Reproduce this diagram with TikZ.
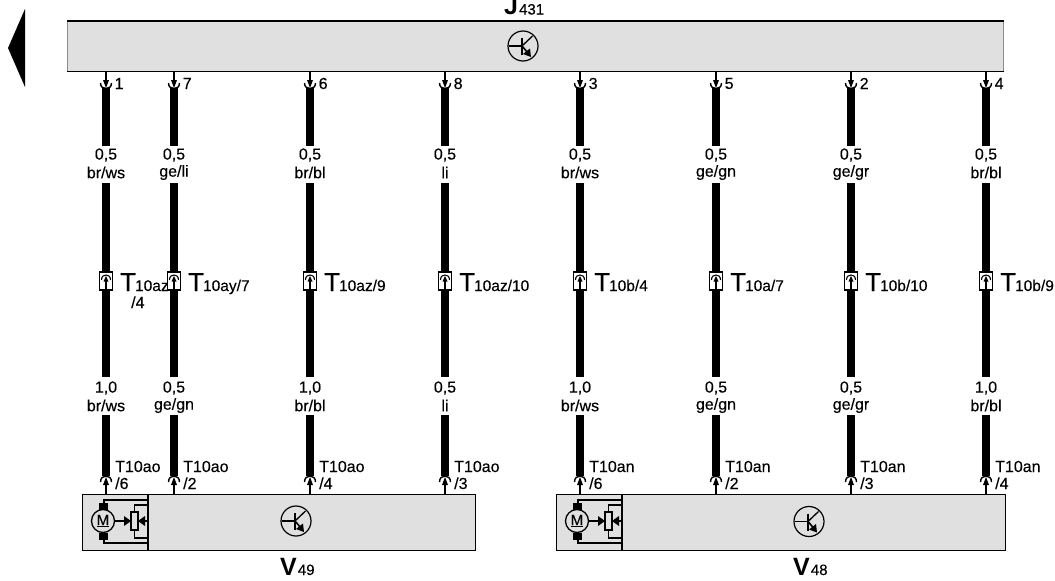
\documentclass[tikz,border=0pt]{standalone}
\usepackage{fontspec}
\setmainfont[FakeBold=0.25]{Liberation Sans}
\newfontfamily\bigfont{Liberation Sans Bold}
\begin{document}
\begin{tikzpicture}[x=1pt,y=-1pt,
  boxfill/.style={fill=black!12},
  rule/.style={line width=1.3pt,black},
  wire/.style={line width=8pt,black},
  thinline/.style={line width=1.2pt,black},
  lab/.style={inner sep=0pt,align=center,font=\fontsize{16}{17}\selectfont},
  pin/.style={inner sep=0pt,anchor=west,font=\fontsize{16}{16}\selectfont},
  conn/.style={inner sep=0pt,anchor=base west,font=\fontsize{16}{16}\selectfont},
  big/.style={inner sep=0pt,anchor=base west,font=\fontsize{26}{26}\selectfont},
  ttl/.style={inner sep=0pt,anchor=base west,font=\fontsize{25}{25}\selectfont},
]
\useasboundingbox (0,0) rectangle (1055,581);
\fill[black] (8,48) -- (25,9) -- (25,87) -- cycle;
% boxes
\node[boxfill,draw=black!45,line width=0.5pt,minimum width=936pt,minimum height=50pt,inner sep=0pt,anchor=north west] (J) at (67,21) {};
\draw[rule] (J.north west) -- (J.north east);
\draw[rule] (J.south west) -- (J.south east);
\node[boxfill,draw=black,line width=1.2pt,minimum width=393pt,minimum height=56pt,inner sep=0pt,anchor=north west] (VL) at (82,494) {};
\node[boxfill,draw=black,line width=1.2pt,minimum width=449pt,minimum height=56pt,inner sep=0pt,anchor=north west] (VR) at (556,494) {};
\draw[thinline] (148,494) -- (148,550);
\draw[thinline] (622,494) -- (622,550);
\node[ttl] (Jt) at (504,14.5) {{\bigfont J}{\fontsize{15}{15}\selectfont\kern1pt 431}};
\node[ttl] (Vlt) at (280,575) {{\bigfont V}{\fontsize{15}{15}\selectfont\kern1pt 49}};
\node[ttl] (Vrt) at (793,575) {{\bigfont V}{\fontsize{15}{15}\selectfont\kern1pt 48}};
% transistor symbols
\foreach \cx/\cy/\n in {523/46/a,296/521/b,809/521.5/c}{
  \begin{scope}[shift={(\cx,\cy)}]
    \node[circle,draw=black,line width=1.2pt,minimum size=30pt,inner sep=0pt] (sym\n) at (0,0) {};
    \draw[line width=1.3pt] (-14,0) -- (-1,0);
    \draw[line width=1.6pt] (-1,-8) -- (-1,9);
    \draw[line width=1.3pt] (-1,0) -- (9.5,-10);
    \draw[line width=1.6pt] (-1,0) -- (5,7);
    \fill (8,11) -- (7,2.5) -- (0,8) -- cycle;
  \end{scope}
}
% wires
\newcommand{\wirecol}[9]{%
  % #1 id, #2 x, #3 pin, #4 top size, #5 top colour, #6 bottom size, #7 bottom colour, #8 bottom connector, #9 bottom pin
  \coordinate (t#1) at (#2,71);
  \coordinate (b#1) at (#2,494);
  \node[lab] (ta#1) at (#2,155) {#4};
  \node[lab] (tb#1) at (#2,172.5) {#5};
  \node[lab] (ba#1) at (#2,388) {#6};
  \node[lab] (bb#1) at (#2,405.5) {#7};
  \coordinate (w1#1) at (#2,88);
  \coordinate (w2#1) at (#2,146);
  \coordinate (w3#1) at (#2,183);
  \coordinate (w4#1) at (#2,377);
  \coordinate (w5#1) at (#2,415);
  \coordinate (w6#1) at (#2,476);
  \draw[wire] (w1#1) -- (w2#1);
  \draw[wire] (w3#1) -- (w4#1);
  \draw[wire] (w5#1) -- (w6#1);
  % top pin
  \draw[line width=1.4pt] (t#1) -- ++(0,11);
  \fill (#2-3,80) -- (#2+3,80) -- (#2,88) -- cycle;
  \draw[line width=1.4pt] (#2-5.5,83) .. controls (#2-5.5,87) and (#2-3,88.5) .. (#2,88.5) .. controls (#2+3,88.5) and (#2+5.5,87) .. (#2+5.5,83);
  \node[pin] (p#1) at (#2+8.5,83.5) {#3};
  % bottom pin
  \draw[line width=1.4pt] (b#1) -- ++(0,-11);
  \fill (#2-3,485) -- (#2+3,485) -- (#2,477) -- cycle;
  \draw[line width=1.4pt] (#2-5.5,482) .. controls (#2-5.5,478) and (#2-3,476) .. (#2,476) .. controls (#2+3,476) and (#2+5.5,478) .. (#2+5.5,482);
  \node[conn] (q#1) at (#2+9,472) {#8};
  \node[conn] (r#1) at (#2+9,489) {/#9};
  % middle connector
  \node[draw=black,fill=white,line width=1.3pt,minimum width=13pt,minimum height=18pt,inner sep=0pt] (c#1) at (#2,281) {};
  \draw[line width=1.2pt] (#2,289) -- (#2,278);
  \fill (#2-2.5,281.5) -- (#2+2.5,281.5) -- (#2,276) -- cycle;
  \draw[line width=1.1pt] (#2-4.5,280) .. controls (#2-4.5,276) and (#2-2,275) .. (#2,275) .. controls (#2+2,275) and (#2+4.5,276) .. (#2+4.5,280);
}
\wirecol{1}{106}{1}{0,5}{br/ws}{1,0}{br/ws}{T10ao}{6}
\wirecol{2}{174}{7}{0,5}{ge/li}{0,5}{ge/gn}{T10ao}{2}
\wirecol{3}{310}{6}{0,5}{br/bl}{1,0}{br/bl}{T10ao}{4}
\wirecol{4}{445}{8}{0,5}{li}{0,5}{li}{T10ao}{3}
\wirecol{5}{580}{3}{0,5}{br/ws}{1,0}{br/ws}{T10an}{6}
\wirecol{6}{716}{5}{0,5}{ge/gn}{0,5}{ge/gn}{T10an}{2}
\wirecol{7}{851}{2}{0,5}{ge/gr}{0,5}{ge/gr}{T10an}{3}
\wirecol{8}{986}{4}{0,5}{br/bl}{1,0}{br/bl}{T10an}{4}
% T labels
\newcommand{\tlabel}[3]{\node[big] (tl#1) at (#2+14,291) {T{\fontsize{15.5}{15.5}\selectfont\kern-1pt #3}};}
\tlabel{1}{106}{10az}
\node[conn] (tl1b) at (131,308) {/4};
\tlabel{2}{174}{10ay/7}
\tlabel{3}{310}{10az/9}
\tlabel{4}{445}{10az/10}
\tlabel{5}{580}{10b/4}
\tlabel{6}{716}{10a/7}
\tlabel{7}{851}{10b/10}
\tlabel{8}{986}{10b/9}
% motor symbols
\foreach \dx/\n in {0/l,474/r}{
  \begin{scope}[xshift=\dx pt]
    \node[circle,draw=black,line width=1.3pt,minimum size=23pt,inner sep=0pt,font=\fontsize{15}{15}\selectfont] (m\n) at (103,521) {\underline{M}};
    \fill (99,503) rectangle (108,509.5);
    \fill (99,533) rectangle (108,540);
    \draw[thinline] (104,503) -- (104,500) -- (148,500);
    \draw[thinline] (104,540) -- (104,543) -- (148,543);
    \node[draw=black,fill=black!12,line width=1.2pt,minimum width=7pt,minimum height=18pt,inner sep=0pt] (pot\n) at (134.5,521) {};
    \draw[thinline] (134.5,512) -- (134.5,505) -- (148,505);
    \draw[thinline] (134.5,530) -- (134.5,538) -- (148,538);
    \draw[thinline] (114.5,521) -- (125,521);
    \fill (124,516) -- (131,521) -- (124,526) -- cycle;
    \draw[thinline] (148,521) -- (143,521);
    \fill (145,516) -- (138,521) -- (145,526) -- cycle;
  \end{scope}
}
\end{tikzpicture}
\end{document}
